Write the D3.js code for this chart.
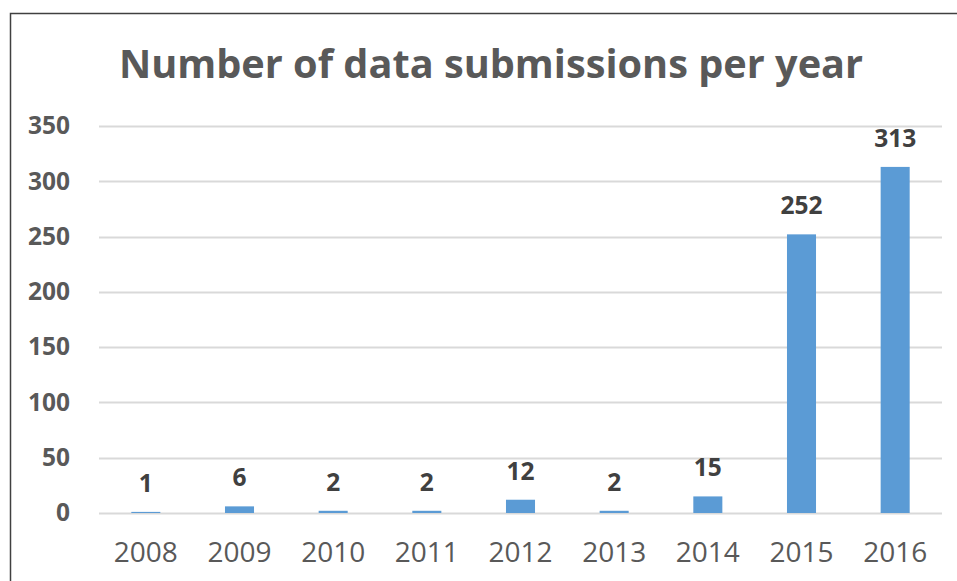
<!DOCTYPE html>
<html>
<head>
<meta charset="utf-8">
<script src="https://cdn.jsdelivr.net/npm/d3@7"></script>
<style>
  body { margin: 0; background: #fff; }
  svg { display: block; font-family: "Open Sans", sans-serif; }
</style>
</head>
<body>
<svg id="chart" width="957" height="581"></svg>
<script>
// data
var years = ['2008', '2009', '2010', '2011', '2012', '2013', '2014', '2015', '2016'];
var submissions = [1, 6, 2, 2, 12, 2, 15, 252, 313];
var yTicks = [0, 50, 100, 150, 200, 250, 300, 350];
var title = 'Number of data submissions per year';

var svg = d3.select('#chart');
var margin = {top: 126, right: 15, bottom: 68, left: 99},
    width = 957 - margin.left - margin.right,
    height = 581 - margin.top - margin.bottom;

// frame (only left and top edges are inside the picture)
svg.append('path')
    .attr('d', 'M10.5,581 V13.5 H957')
    .attr('fill', 'none')
    .attr('stroke', '#404040')
    .attr('stroke-width', 1.5);

var x = d3.scaleBand().domain(years).range([0, width]).paddingInner(0.69).paddingOuter(0.345);
var y = d3.scaleLinear().domain([0, 350]).range([height, 0]);

var g = svg.append('g')
    .attr('transform', 'translate(' + margin.left + ',' + margin.top + ')');

// title
svg.append('text')
    .attr('x', 491)
    .attr('y', 78)
    .attr('text-anchor', 'middle')
    .attr('fill', '#595959')
    .style('font-size', '39.7px')
    .style('font-weight', 'bold')
    .text(title);

// gridlines
g.append('g')
    .selectAll('line')
    .data(yTicks)
    .enter().append('line')
        .attr('x1', 0)
        .attr('x2', width)
        .attr('y1', function(d) { return Math.round(y(d)) + 0.5; })
        .attr('y2', function(d) { return Math.round(y(d)) + 0.5; })
        .attr('stroke', '#d9d9d9')
        .attr('stroke-width', 2);

// y axis labels
var yAxis = g.append('g')
    .call(d3.axisLeft(y).tickValues(yTicks).tickSize(0).tickPadding(29));
yAxis.select('.domain').remove();
yAxis.selectAll('text')
    .attr('fill', '#595959')
    .style('font-family', '"Open Sans", sans-serif')
    .style('font-size', '24.5px')
    .style('font-weight', 'bold');

// x axis labels
var xAxis = g.append('g')
    .attr('transform', 'translate(0,' + height + ')')
    .call(d3.axisBottom(x).tickSize(0).tickPadding(29));
xAxis.select('.domain').remove();
xAxis.selectAll('text')
    .attr('fill', '#595959')
    .style('font-family', '"Open Sans", sans-serif')
    .style('font-size', '28px');

// bars
g.selectAll('.bar')
    .data(submissions)
    .enter().append('rect')
        .attr('class', 'bar')
        .attr('x', function(d, i) { return x(years[i]); })
        .attr('width', x.bandwidth())
        .attr('y', function(d) { return y(d); })
        .attr('height', function(d) { return height - y(d); })
        .attr('fill', '#5b9bd5');

// value labels
g.selectAll('.val')
    .data(submissions)
    .enter().append('text')
        .attr('class', 'val')
        .attr('x', function(d, i) { return x(years[i]) + x.bandwidth() / 2; })
        .attr('y', function(d) { return y(d) - 20; })
        .attr('text-anchor', 'middle')
        .attr('fill', '#404040')
        .style('font-size', '24.5px')
        .style('font-weight', 'bold')
        .text(function(d) { return d; });
</script>
</body>
</html>
